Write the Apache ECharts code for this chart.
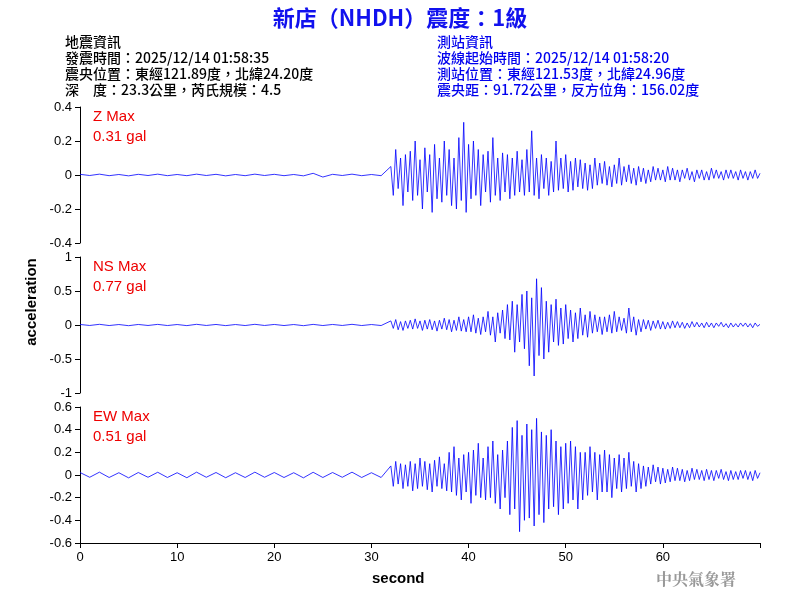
<!DOCTYPE html>
<html><head><meta charset="utf-8">
<script src="https://cdn.jsdelivr.net/npm/echarts@6/dist/echarts.min.js"></script>
<style>body{margin:0}#c{width:800px;height:600px}</style></head>
<body><div id="c"></div>
<script>
const preStart = 0, preStep = 1, actStart = 32, actStep = 0.25;
const zPre = [0.004,-0.003,0.005,-0.004,0.003,-0.005,0.004,-0.003,0.005,-0.004,0.003,-0.004,0.005,-0.003,0.004,-0.005,0.003,-0.004,0.005,-0.003,0.004,-0.004,0.003,-0.005,0.01,-0.012,0.004,-0.003,0.005,-0.004,0.003,-0.004];
const nsPre = [0.008,-0.007,0.01,-0.008,0.007,-0.01,0.008,-0.007,0.009,-0.008,0.007,-0.009,0.01,-0.007,0.008,-0.009,0.007,-0.008,0.01,-0.007,0.008,-0.008,0.007,-0.01,0.009,-0.008,0.008,-0.007,0.01,-0.008,0.007,-0.008];
const ewPre = [0.022,-0.02,0.025,-0.022,0.02,-0.025,0.022,-0.02,0.024,-0.022,0.02,-0.024,0.025,-0.02,0.022,-0.024,0.02,-0.022,0.025,-0.02,0.022,-0.022,0.02,-0.025,0.024,-0.022,0.022,-0.02,0.025,-0.022,0.02,-0.022];
const zAct = [0.05,-0.12,0.15,-0.08,0.1,-0.18,0.12,-0.1, 0.14,-0.15,0.2,-0.12,0.09,-0.2,0.16,-0.1, 0.12,-0.22,0.18,-0.14,0.1,-0.16,0.2,-0.12, 0.15,-0.18,0.1,-0.2,0.22,-0.15,0.31,-0.22, 0.18,-0.14,0.2,-0.12,0.15,-0.18,0.12,-0.1, 0.14,-0.16,0.22,-0.12,0.1,-0.15,0.13,-0.1, 0.12,-0.14,0.1,-0.12,0.14,-0.1,0.09,-0.12, 0.15,-0.1,0.26,-0.12,0.1,-0.14,0.12,-0.08, 0.1,-0.12,0.08,-0.1,0.2,-0.09,0.1,-0.08, 0.12,-0.1,0.08,-0.09,0.1,-0.07,0.09,-0.08, 0.07,-0.09,0.06,-0.08,0.1,-0.06,0.07,-0.05, 0.08,-0.06,0.05,-0.07,0.06,-0.05,0.1,-0.06, 0.05,-0.04,0.06,-0.05,0.04,-0.06,0.05,-0.04, 0.04,-0.05,0.03,-0.04,0.05,-0.03,0.04,-0.03, 0.03,-0.04,0.05,-0.03,0.04,-0.03,0.03,-0.04, 0.03,-0.02,0.04,-0.03,0.02,-0.04,0.03,-0.02, 0.03,-0.03,0.02,-0.03,0.04,-0.02,0.03,-0.02, 0.02,-0.03,0.03,-0.02,0.03,-0.02,0.02,-0.03, 0.03,-0.02,0.02,-0.03,0.02,-0.02,0.03,-0.02,0.01];
const nsAct = [0.06,-0.05,0.08,-0.07,0.05,-0.08,0.06,-0.05, 0.07,-0.06,0.09,-0.05,0.06,-0.08,0.07,-0.06, 0.08,-0.07,0.06,-0.09,0.07,-0.06,0.1,-0.07, 0.08,-0.1,0.07,-0.08,0.12,-0.09,0.08,-0.1, 0.12,-0.1,0.15,-0.12,0.1,-0.14,0.12,-0.1, 0.2,-0.15,0.12,-0.25,0.18,-0.12,0.22,-0.2, 0.3,-0.22,0.35,-0.4,0.3,-0.25,0.45,-0.35, 0.5,-0.6,0.4,-0.75,0.68,-0.45,0.55,-0.5, 0.35,-0.4,0.3,-0.25,0.38,-0.3,0.25,-0.28, 0.3,-0.2,0.22,-0.25,0.18,-0.2,0.25,-0.15, 0.15,-0.18,0.2,-0.12,0.15,-0.1,0.12,-0.14, 0.12,-0.1,0.15,-0.12,0.2,-0.1,0.12,-0.08, 0.1,-0.12,0.25,-0.1,0.12,-0.15,0.08,-0.1, 0.08,-0.06,0.07,-0.08,0.06,-0.05,0.07,-0.06, 0.05,-0.06,0.04,-0.05,0.06,-0.04,0.05,-0.04, 0.04,-0.05,0.03,-0.04,0.05,-0.03,0.04,-0.03, 0.03,-0.04,0.04,-0.03,0.03,-0.04,0.03,-0.02, 0.04,-0.03,0.02,-0.04,0.03,-0.03,0.02,-0.03, 0.03,-0.02,0.03,-0.03,0.02,-0.04,0.03,-0.02,0.01];
const ewAct = [0.08,-0.1,0.12,-0.08,0.1,-0.12,0.09,-0.1, 0.12,-0.14,0.1,-0.12,0.15,-0.1,0.12,-0.13, 0.1,-0.15,0.13,-0.1,0.16,-0.12,0.1,-0.14, 0.2,-0.15,0.25,-0.18,0.15,-0.22,0.18,-0.15, 0.2,-0.25,0.22,-0.18,0.28,-0.2,0.15,-0.22, 0.25,-0.2,0.3,-0.25,0.18,-0.3,0.22,-0.2, 0.3,-0.35,0.42,-0.3,0.48,-0.5,0.35,-0.4, 0.45,-0.38,0.4,-0.45,0.5,-0.35,0.38,-0.42, 0.35,-0.3,0.4,-0.28,0.3,-0.35,0.25,-0.3, 0.28,-0.25,0.3,-0.22,0.25,-0.3,0.2,-0.22, 0.2,-0.18,0.25,-0.15,0.2,-0.22,0.18,-0.15, 0.22,-0.15,0.18,-0.2,0.15,-0.12,0.18,-0.15, 0.15,-0.12,0.2,-0.1,0.12,-0.15,0.1,-0.12, 0.08,-0.1,0.07,-0.08,0.09,-0.06,0.07,-0.08, 0.06,-0.07,0.05,-0.06,0.07,-0.05,0.06,-0.05, 0.05,-0.06,0.04,-0.05,0.06,-0.04,0.05,-0.04, 0.04,-0.05,0.05,-0.04,0.04,-0.05,0.04,-0.03, 0.05,-0.04,0.03,-0.05,0.04,-0.04,0.03,-0.04, 0.04,-0.03,0.04,-0.04,0.03,-0.05,0.04,-0.03,0.02];
const panels = [
  {name:'Z Max', maxLabel:'0.31 gal', pre:zPre, act:zAct, min:-0.4, max:0.4, interval:0.2},
  {name:'NS Max', maxLabel:'0.77 gal', pre:nsPre, act:nsAct, min:-1, max:1, interval:0.5},
  {name:'EW Max', maxLabel:'0.51 gal', pre:ewPre, act:ewAct, min:-0.6, max:0.6, interval:0.2}
];
const tops = [107, 257, 407];
function build(p){
  const d = p.pre.map((v,i)=>[preStart+i*preStep, v]);
  return d.concat(p.act.map((v,i)=>[actStart+i*actStep, v]));
}
const F = 'Arial, "Liberation Sans", sans-serif';
const CJK = '"Noto Sans CJK TC", sans-serif';
const chart = echarts.init(document.getElementById('c'));
const headerL = ['地震資訊','發震時間：2025/12/14 01:58:35','震央位置：東經121.89度，北緯24.20度','深　度：23.3公里，芮氏規模：4.5'];
const headerR = ['測站資訊','波線起始時間：2025/12/14 01:58:20','測站位置：東經121.53度，北緯24.96度','震央距：91.72公里，反方位角：156.02度'];
const graphic = [];
headerL.forEach((t,i)=>graphic.push({type:'text',left:65,top:35+i*16,style:{text:t,font:'500 14px '+CJK,fill:'#000'}}));
headerR.forEach((t,i)=>graphic.push({type:'text',left:437,top:35+i*16,style:{text:t,font:'500 14px '+CJK,fill:'#0000ee'}}));
panels.forEach((p,i)=>{
  graphic.push({type:'text',left:93,top:tops[i]+2,style:{text:p.name,font:'15px '+F,fill:'#ee0000'}});
  graphic.push({type:'text',left:93,top:tops[i]+22,style:{text:p.maxLabel,font:'15px '+F,fill:'#ee0000'}});
});
graphic.push({type:'text',x:32,y:302,rotation:Math.PI/2,style:{text:'acceleration',font:'bold 15px '+F,fill:'#000',align:'center',verticalAlign:'middle'}});
graphic.push({type:'text',left:372,top:571,style:{text:'second',font:'bold 15px '+F,fill:'#000'}});
graphic.push({type:'text',left:656,top:571,style:{text:'中央氣象署',font:'bold 16px "Noto Serif CJK TC","Noto Sans CJK TC",serif',fill:'#999'}});
chart.setOption({
  animation:false,
  backgroundColor:'#fff',
  title:{text:'新店（NHDH）震度：1級',left:'center',top:2,textStyle:{color:'#1111ee',fontSize:22,fontWeight:'bold',fontFamily:CJK}},
  graphic:graphic,
  grid: tops.map(t=>({left:80,right:40,top:t,height:136})),
  xAxis: panels.map((p,i)=>({gridIndex:i,type:'value',min:0,max:70,interval:10,
    show:true,
    axisLine:{show:i===2,onZero:false,lineStyle:{color:'#000'}},
    axisTick:{show:i===2,lineStyle:{color:'#000'}},
    axisLabel:{show:i===2,color:'#000',fontSize:13,fontFamily:F,formatter:v=>v>=70?'':v},
    splitLine:{show:false}})),
  yAxis: panels.map((p,i)=>({gridIndex:i,type:'value',min:p.min,max:p.max,interval:p.interval,
    axisLine:{show:true,lineStyle:{color:'#000'}},axisTick:{show:true,lineStyle:{color:'#000'}},
    axisLabel:{color:'#000',fontSize:13,fontFamily:F},splitLine:{show:false}})),
  series: panels.map((p,i)=>({type:'line',xAxisIndex:i,yAxisIndex:i,data:build(p),showSymbol:false,
    lineStyle:{color:'#0000ff',width:0.8},itemStyle:{color:'#0000ff'}}))
});
</script></body></html>
